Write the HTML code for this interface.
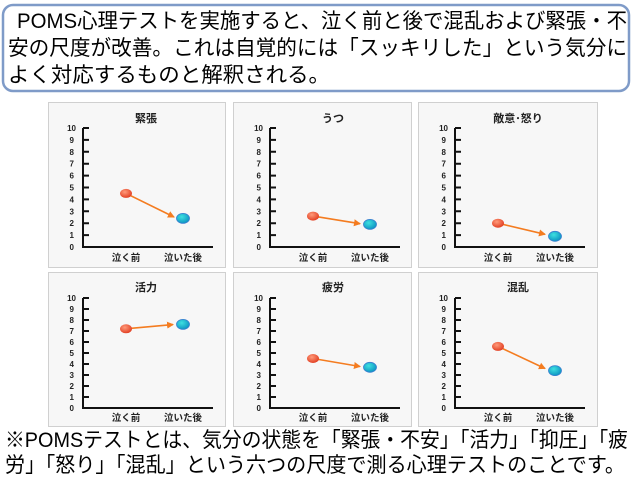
<!DOCTYPE html>
<html><head><meta charset="utf-8"><style>
html,body{margin:0;padding:0;background:#fff;}
svg{display:block;}
.t{font-family:"Liberation Sans","Noto Sans CJK JP",sans-serif;}
.tk{font-family:"Liberation Sans",sans-serif;font-size:8px;font-weight:bold;fill:#222;text-anchor:end;}
.cl{font-family:"Liberation Sans","Noto Sans CJK JP",sans-serif;font-size:9.5px;font-weight:bold;fill:#222;text-anchor:middle;}
.ti{font-family:"Liberation Sans","Noto Sans CJK JP",sans-serif;font-size:11px;font-weight:bold;fill:#222;text-anchor:middle;}
.big{font-family:"Liberation Sans","Noto Sans CJK JP",sans-serif;font-size:21px;fill:#000;}
</style></head><body>
<svg width="638" height="491" viewBox="0 0 638 491" xmlns="http://www.w3.org/2000/svg">
<defs>
<marker id="ar" markerWidth="8" markerHeight="8" refX="6" refY="4" orient="auto" markerUnits="userSpaceOnUse"><path d="M0,0.5 L7,4 L0,7.5 Z" fill="#f47c20"/></marker>
<radialGradient id="rg" cx="0.4" cy="0.35" r="0.7"><stop offset="0" stop-color="#ff9a7a"/><stop offset="1" stop-color="#e03a1e"/></radialGradient>
<radialGradient id="bg" cx="0.4" cy="0.35" r="0.7"><stop offset="0" stop-color="#3ee0e0"/><stop offset="1" stop-color="#0a8fc0"/></radialGradient>
</defs>
<rect x="3" y="5" width="626" height="86" rx="10" fill="#fff" stroke="#7f9bc8" stroke-width="2.5"/>
<text class="big" x="17" y="28" textLength="610" lengthAdjust="spacingAndGlyphs">POMS心理テストを実施すると、泣く前と後で混乱および緊張・不</text>
<text class="big" x="8" y="55" textLength="619" lengthAdjust="spacingAndGlyphs">安の尺度が改善。これは自覚的には「スッキリした」という気分に</text>
<text class="big" x="8" y="82" textLength="322" lengthAdjust="spacingAndGlyphs">よく対応するものと解釈される。</text>

<!-- frames -->
<g fill="#f7f7f7" stroke="#d0d0d0" stroke-width="1">
<rect x="48.5" y="102.5" width="177" height="165"/>
<rect x="233.5" y="102.5" width="178" height="165"/>
<rect x="418.5" y="102.5" width="179" height="165"/>
<rect x="48.5" y="272.5" width="177" height="154"/>
<rect x="233.5" y="272.5" width="178" height="154"/>
<rect x="418.5" y="272.5" width="179" height="154"/>
</g>

<!-- Row 1 panels -->
<g id="r1">
<g transform="translate(83,247)">
<path d="M0,-119 V0 H130 M0,-119h6M0,-107.1h6M0,-95.2h6M0,-83.3h6M0,-71.4h6M0,-59.5h6M0,-47.6h6M0,-35.7h6M0,-23.8h6M0,-11.9h6" stroke="#111" stroke-width="2" fill="none"/>
<text class="tk" x="-9" y="3">0</text><text class="tk" x="-9" y="-8.9">1</text><text class="tk" x="-9" y="-20.8">2</text><text class="tk" x="-9" y="-32.7">3</text><text class="tk" x="-9" y="-44.6">4</text><text class="tk" x="-9" y="-56.5">5</text><text class="tk" x="-9" y="-68.4">6</text><text class="tk" x="-9" y="-80.3">7</text><text class="tk" x="-9" y="-92.2">8</text><text class="tk" x="-9" y="-104.1">9</text><text class="tk" x="-7" y="-116">10</text>
<text class="cl" x="43" y="14">泣く前</text><text class="cl" x="100" y="14">泣いた後</text>
<text class="ti" x="63" y="-125">緊張</text>
<line x1="43" y1="-53.6" x2="91" y2="-30" stroke="#f47c20" stroke-width="1.6" marker-end="url(#ar)"/>
<ellipse cx="43" cy="-53.6" rx="6" ry="4.5" fill="url(#rg)"/><ellipse cx="100" cy="-28.6" rx="6.5" ry="5" fill="url(#bg)" stroke="#3a7fd0" stroke-width="0.8"/>
</g>
<g transform="translate(270,247)">
<path d="M0,-119 V0 H130 M0,-119h6M0,-107.1h6M0,-95.2h6M0,-83.3h6M0,-71.4h6M0,-59.5h6M0,-47.6h6M0,-35.7h6M0,-23.8h6M0,-11.9h6" stroke="#111" stroke-width="2" fill="none"/>
<text class="tk" x="-9" y="3">0</text><text class="tk" x="-9" y="-8.9">1</text><text class="tk" x="-9" y="-20.8">2</text><text class="tk" x="-9" y="-32.7">3</text><text class="tk" x="-9" y="-44.6">4</text><text class="tk" x="-9" y="-56.5">5</text><text class="tk" x="-9" y="-68.4">6</text><text class="tk" x="-9" y="-80.3">7</text><text class="tk" x="-9" y="-92.2">8</text><text class="tk" x="-9" y="-104.1">9</text><text class="tk" x="-7" y="-116">10</text>
<text class="cl" x="43" y="14">泣く前</text><text class="cl" x="100" y="14">泣いた後</text>
<text class="ti" x="63" y="-125">うつ</text>
<line x1="43" y1="-30.9" x2="90" y2="-23.3" stroke="#f47c20" stroke-width="1.6" marker-end="url(#ar)"/>
<ellipse cx="43" cy="-30.9" rx="6" ry="4.5" fill="url(#rg)"/><ellipse cx="100" cy="-22.6" rx="6.5" ry="5" fill="url(#bg)" stroke="#3a7fd0" stroke-width="0.8"/>
</g>
<g transform="translate(455,247)">
<path d="M0,-119 V0 H130 M0,-119h6M0,-107.1h6M0,-95.2h6M0,-83.3h6M0,-71.4h6M0,-59.5h6M0,-47.6h6M0,-35.7h6M0,-23.8h6M0,-11.9h6" stroke="#111" stroke-width="2" fill="none"/>
<text class="tk" x="-9" y="3">0</text><text class="tk" x="-9" y="-8.9">1</text><text class="tk" x="-9" y="-20.8">2</text><text class="tk" x="-9" y="-32.7">3</text><text class="tk" x="-9" y="-44.6">4</text><text class="tk" x="-9" y="-56.5">5</text><text class="tk" x="-9" y="-68.4">6</text><text class="tk" x="-9" y="-80.3">7</text><text class="tk" x="-9" y="-92.2">8</text><text class="tk" x="-9" y="-104.1">9</text><text class="tk" x="-7" y="-116">10</text>
<text class="cl" x="43" y="14">泣く前</text><text class="cl" x="100" y="14">泣いた後</text>
<text class="ti" x="63" y="-125">敵意･怒り</text>
<line x1="43" y1="-23.8" x2="90" y2="-12.7" stroke="#f47c20" stroke-width="1.6" marker-end="url(#ar)"/>
<ellipse cx="43" cy="-23.8" rx="6" ry="4.5" fill="url(#rg)"/><ellipse cx="100" cy="-10.7" rx="6.5" ry="5" fill="url(#bg)" stroke="#3a7fd0" stroke-width="0.8"/>
</g>
</g>

<!-- Row 2 panels -->
<g transform="translate(83,408)">
<path d="M0,-110 V0 H130 M0,-110h6M0,-99h6M0,-88h6M0,-77h6M0,-66h6M0,-55h6M0,-44h6M0,-33h6M0,-22h6M0,-11h6" stroke="#111" stroke-width="2" fill="none"/>
<text class="tk" x="-9" y="3">0</text><text class="tk" x="-9" y="-8">1</text><text class="tk" x="-9" y="-19">2</text><text class="tk" x="-9" y="-30">3</text><text class="tk" x="-9" y="-41">4</text><text class="tk" x="-9" y="-52">5</text><text class="tk" x="-9" y="-63">6</text><text class="tk" x="-9" y="-74">7</text><text class="tk" x="-9" y="-85">8</text><text class="tk" x="-9" y="-96">9</text><text class="tk" x="-7" y="-107">10</text>
<text class="cl" x="43" y="13">泣く前</text><text class="cl" x="100" y="13">泣いた後</text>
<text class="ti" x="63" y="-117">活力</text>
<line x1="43" y1="-79.2" x2="90" y2="-83.4" stroke="#f47c20" stroke-width="1.6" marker-end="url(#ar)"/>
<ellipse cx="43" cy="-79.2" rx="6" ry="4.5" fill="url(#rg)"/><ellipse cx="100" cy="-83.6" rx="6.5" ry="5" fill="url(#bg)" stroke="#3a7fd0" stroke-width="0.8"/>
</g>
<g transform="translate(270,408)">
<path d="M0,-110 V0 H130 M0,-110h6M0,-99h6M0,-88h6M0,-77h6M0,-66h6M0,-55h6M0,-44h6M0,-33h6M0,-22h6M0,-11h6" stroke="#111" stroke-width="2" fill="none"/>
<text class="tk" x="-9" y="3">0</text><text class="tk" x="-9" y="-8">1</text><text class="tk" x="-9" y="-19">2</text><text class="tk" x="-9" y="-30">3</text><text class="tk" x="-9" y="-41">4</text><text class="tk" x="-9" y="-52">5</text><text class="tk" x="-9" y="-63">6</text><text class="tk" x="-9" y="-74">7</text><text class="tk" x="-9" y="-85">8</text><text class="tk" x="-9" y="-96">9</text><text class="tk" x="-7" y="-107">10</text>
<text class="cl" x="43" y="13">泣く前</text><text class="cl" x="100" y="13">泣いた後</text>
<text class="ti" x="63" y="-117">疲労</text>
<line x1="43" y1="-49.5" x2="90" y2="-41.5" stroke="#f47c20" stroke-width="1.6" marker-end="url(#ar)"/>
<ellipse cx="43" cy="-49.5" rx="6" ry="4.5" fill="url(#rg)"/><ellipse cx="100" cy="-40.7" rx="6.5" ry="5" fill="url(#bg)" stroke="#3a7fd0" stroke-width="0.8"/>
</g>
<g transform="translate(455,408)">
<path d="M0,-110 V0 H130 M0,-110h6M0,-99h6M0,-88h6M0,-77h6M0,-66h6M0,-55h6M0,-44h6M0,-33h6M0,-22h6M0,-11h6" stroke="#111" stroke-width="2" fill="none"/>
<text class="tk" x="-9" y="3">0</text><text class="tk" x="-9" y="-8">1</text><text class="tk" x="-9" y="-19">2</text><text class="tk" x="-9" y="-30">3</text><text class="tk" x="-9" y="-41">4</text><text class="tk" x="-9" y="-52">5</text><text class="tk" x="-9" y="-63">6</text><text class="tk" x="-9" y="-74">7</text><text class="tk" x="-9" y="-85">8</text><text class="tk" x="-9" y="-96">9</text><text class="tk" x="-7" y="-107">10</text>
<text class="cl" x="43" y="13">泣く前</text><text class="cl" x="100" y="13">泣いた後</text>
<text class="ti" x="63" y="-117">混乱</text>
<line x1="43" y1="-61.6" x2="90" y2="-39.5" stroke="#f47c20" stroke-width="1.6" marker-end="url(#ar)"/>
<ellipse cx="43" cy="-61.6" rx="6" ry="4.5" fill="url(#rg)"/><ellipse cx="100" cy="-37.4" rx="6.5" ry="5" fill="url(#bg)" stroke="#3a7fd0" stroke-width="0.8"/>
</g>

<text class="big" x="5" y="447" textLength="623" lengthAdjust="spacingAndGlyphs">※POMSテストとは、気分の状態を「緊張・不安」「活力」「抑圧」「疲</text>
<text class="big" x="5" y="472" textLength="620" lengthAdjust="spacingAndGlyphs">労」「怒り」「混乱」という六つの尺度で測る心理テストのことです。</text>
</svg>
</body></html>
